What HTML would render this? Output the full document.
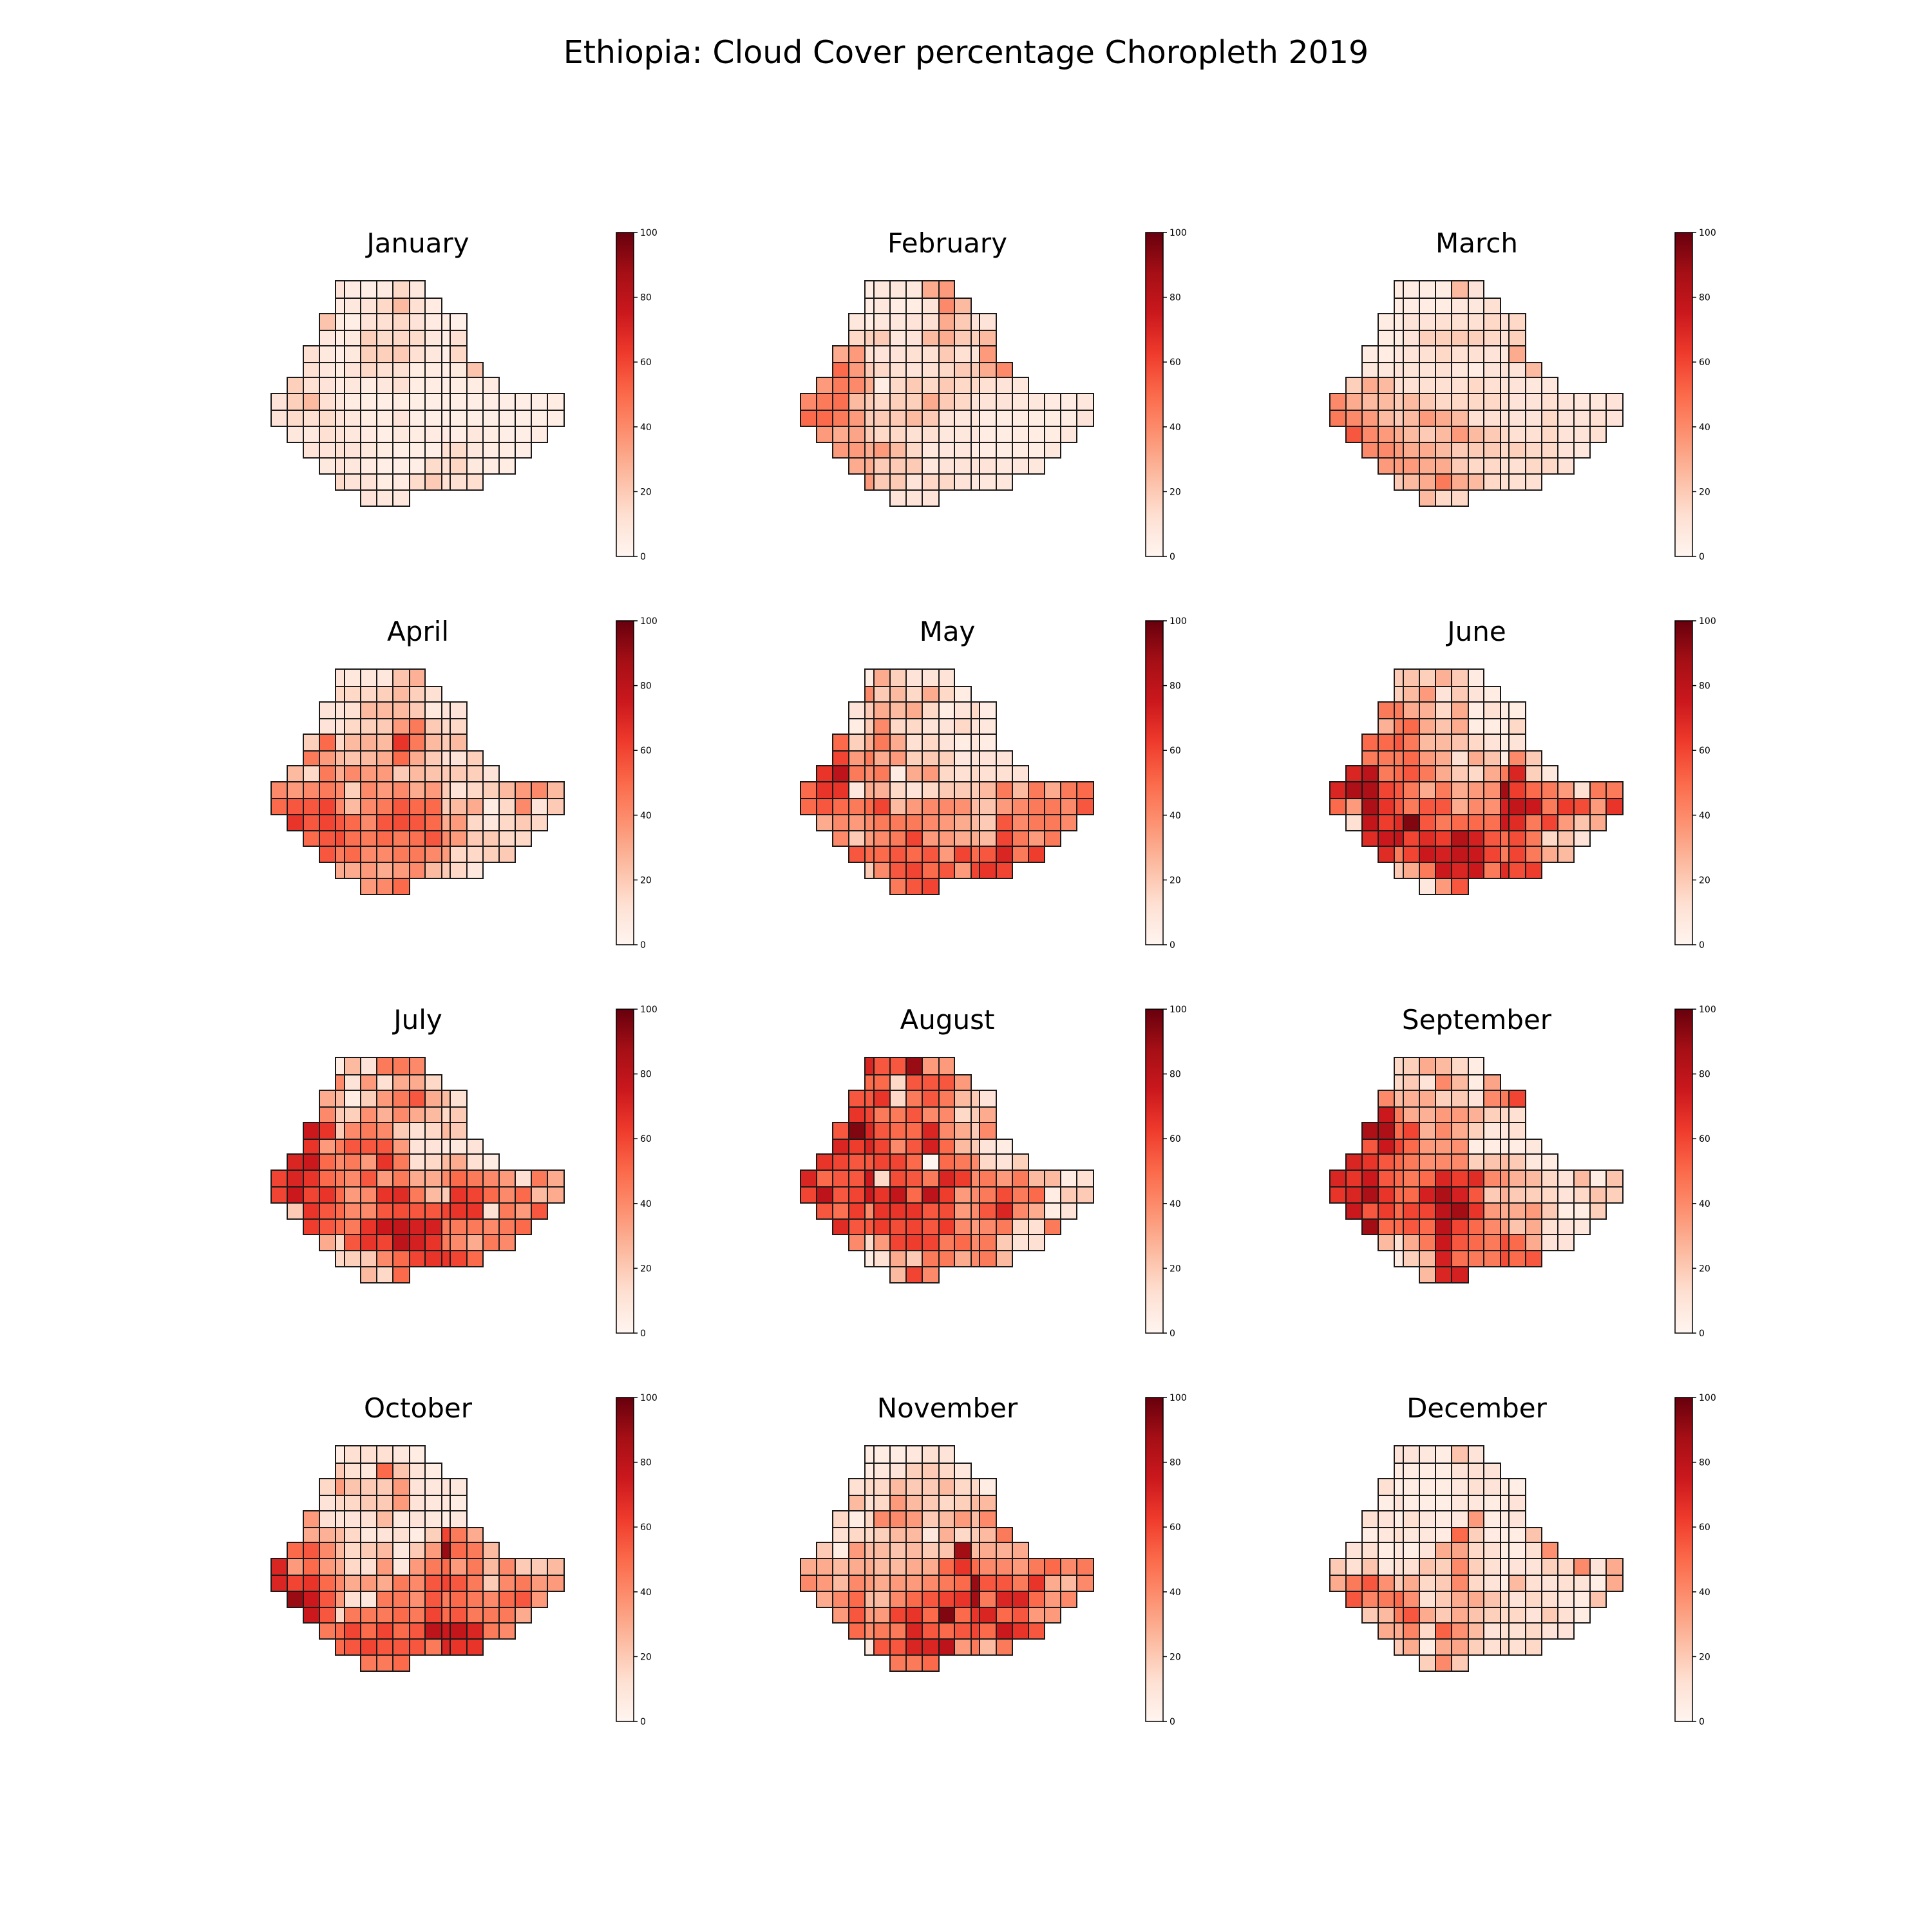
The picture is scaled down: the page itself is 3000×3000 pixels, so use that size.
<!DOCTYPE html>
<html><head><meta charset="utf-8"><style>html,body{margin:0;padding:0;background:#fff}svg{display:block}</style></head>
<body>
<svg id="chart" xmlns="http://www.w3.org/2000/svg" width="3000" height="3000" viewBox="0 0 3000 3000" font-family="DejaVu Sans, Liberation Sans, sans-serif">
<defs><linearGradient id="reds" x1="0" y1="1" x2="0" y2="0">
<stop offset="0" stop-color="#fff5f0"/><stop offset="0.125" stop-color="#fee0d2"/><stop offset="0.25" stop-color="#fcbba1"/><stop offset="0.375" stop-color="#fc9272"/><stop offset="0.5" stop-color="#fb6a4a"/><stop offset="0.625" stop-color="#ef3b2c"/><stop offset="0.75" stop-color="#cb181d"/><stop offset="0.875" stop-color="#a50f15"/><stop offset="1" stop-color="#67000d"/></linearGradient></defs>
<text x="1500" y="98" font-size="49" text-anchor="middle">Ethiopia: Cloud Cover percentage Choropleth 2019</text>
<g id="panels"></g>
</svg>
<script>
const months = ["January","February","March","April","May","June","July","August","September","October","November","December"];
const colTicks = [0,20,40,60,80,100];
const rowStart = [4,4,3,3,2,2,1,0,0,1,2,3,4,6];
const jan = [[10,6,4,6,15,8],[6,8,10,15,25,12,6],[22,5,4,10,12,15,10,6,5,3],[8,5,7,18,14,15,14,8,4,12],[12,7,4,7,18,18,20,12,8,4,15],[12,8,5,10,15,12,12,5,6,4,7,22],[18,12,10,6,8,5,8,12,5,5,4,5,5,6],[10,18,25,12,8,5,4,4,5,4,4,4,4,4,4,4,4,4,5],[10,14,12,14,10,8,5,5,10,4,4,4,4,4,4,4,4,4,4],[8,7,12,10,8,6,4,7,5,6,6,4,8,5,4,4,5],[10,10,12,10,8,5,4,4,4,12,14,8,5,5,4],[7,10,8,6,4,4,4,14,12,16,7,5,5],[14,10,10,5,6,14,20,12,12,13],[10,8,8]];
const feb = [[5,8,8,8,30,35],[5,8,5,5,10,40,25],[8,5,8,8,10,12,30,20,10,10],[15,18,20,8,10,25,30,20,18,25],[30,35,12,10,10,12,12,20,12,10,35],[50,35,20,15,12,10,12,15,20,20,30,40],[35,45,40,30,5,15,20,15,20,15,15,12,10,8],[40,45,48,25,20,15,18,18,30,20,15,10,10,10,8,8,6,5,8],[50,50,45,35,20,20,20,25,20,10,8,8,5,5,5,5,5,5,10],[35,30,32,20,15,15,12,12,8,8,8,5,5,5,5,5,8],[35,35,30,35,25,15,8,8,8,5,5,5,5,5,8],[30,30,20,20,20,8,10,10,10,10,8,8,8],[35,20,20,10,15,15,10,8,8,8],[10,10,10]];
const mar = [[5,5,5,5,25,10],[5,5,5,5,8,8,12],[5,5,10,10,12,12,12,15,12,15],[5,5,10,18,18,20,18,15,12,18],[5,5,8,10,12,15,12,12,10,8,30],[8,8,10,10,10,12,8,5,10,10,10,25],[18,30,25,12,12,12,12,12,15,12,10,10,8,8],[40,30,25,25,20,25,20,15,15,15,15,12,10,10,12,10,8,8,10],[45,40,35,25,20,25,35,30,25,12,12,10,10,10,15,10,10,12,10],[55,40,35,30,25,20,25,35,25,20,15,12,12,15,10,10,12],[40,40,35,30,30,25,20,20,20,15,18,15,15,10,8],[35,35,35,30,30,20,15,15,12,12,15,15,10],[20,25,30,45,30,25,15,12,12,12],[25,15,15]];
const apr = [[10,8,8,8,22,28],[15,15,15,18,25,18,12],[10,10,12,25,25,25,20,8,10,10],[10,10,15,18,20,35,45,20,15,15],[18,50,15,25,28,25,65,45,25,20,25],[45,35,25,22,25,30,50,30,20,12,10,18],[25,15,45,30,40,35,35,20,25,22,20,20,18,10],[40,35,40,45,40,18,40,35,40,30,35,20,10,15,18,25,35,40,25],[50,55,55,60,40,25,40,45,55,50,50,20,25,30,5,15,40,10,20],[65,55,60,55,50,40,55,58,55,50,30,35,15,8,15,20,15],[50,55,58,48,45,50,45,48,55,40,35,20,20,15,15],[55,45,50,40,40,45,45,40,35,15,15,18,20],[30,30,35,30,35,40,25,20,15,8],[35,40,50]];
const may = [[5,30,18,10,10,10],[40,20,25,15,30,15,5],[10,20,30,25,30,15,5,10,15,5],[5,20,40,15,15,10,10,15,10,8],[50,18,30,45,30,12,15,10,5,8,5],[60,35,45,30,35,18,20,18,8,10,10,10],[65,80,45,40,45,5,30,35,15,12,15,12,12,10],[50,65,65,8,30,28,15,10,15,20,20,20,25,45,25,45,30,45,50],[50,55,50,45,50,60,25,35,40,40,38,25,22,35,40,45,45,40,55],[30,40,35,40,45,45,45,40,35,30,25,20,55,40,45,45,40],[40,20,35,40,45,60,35,35,30,30,25,60,45,35,45],[55,50,50,55,50,55,35,60,50,55,70,45,62],[20,40,55,60,50,55,35,60,65,60],[45,55,60]];
const jun = [[20,22,18,28,20,6],[18,25,35,10,20,10,5],[45,45,30,28,15,30,5,12,5,5],[28,45,50,30,22,30,5,5,5,15],[50,50,55,45,25,25,22,15,10,5,10],[45,45,45,50,35,30,12,30,22,5,40,20],[70,80,45,50,55,45,30,20,15,30,45,70,18,8],[70,85,85,60,55,45,30,45,30,35,38,88,62,50,45,35,12,45,45],[50,35,85,65,55,45,55,55,30,40,38,72,78,75,45,62,58,35,65],[12,78,62,68,95,55,45,50,50,48,75,68,45,60,35,22,30],[68,75,78,60,68,62,82,72,55,50,58,45,15,22,10],[68,45,60,75,72,78,75,60,45,60,45,30,25],[20,30,45,75,70,75,45,68,58,62],[8,35,55]];
const jul = [[5,25,10,45,45,40],[40,10,35,12,30,30,15],[30,25,5,18,35,45,55,30,25,12],[40,20,18,38,28,40,30,25,15,20],[75,65,20,40,45,40,20,12,15,25,20],[65,35,45,55,55,55,35,10,10,8,8,10],[70,75,50,40,45,35,65,45,12,15,25,30,12,5],[60,70,65,50,45,40,55,35,45,30,30,40,50,45,40,35,12,45,30],[60,75,60,65,50,35,40,65,68,45,25,20,65,60,50,40,50,25,30],[20,65,55,50,40,40,55,58,55,55,60,65,65,12,45,35,55],[62,55,50,45,65,75,78,72,72,45,45,45,40,45,50],[30,15,55,65,60,80,72,65,45,40,30,45,40],[15,18,20,40,50,60,65,65,60,50],[25,15,50]];
const aug = [[70,55,55,90,35,35],[50,50,15,55,55,55,35],[55,55,65,15,45,55,45,25,20,10],[65,60,45,45,55,40,40,15,20,30],[55,95,70,55,50,50,70,40,30,20,40],[70,62,70,60,40,55,72,50,25,20,10,5],[65,60,55,55,60,60,50,0,50,45,40,15,10,18],[70,50,55,55,75,15,58,55,45,70,62,40,45,35,45,25,25,5,12],[60,80,55,60,75,65,78,50,80,62,35,40,45,58,45,50,5,20,20],[55,48,62,40,65,65,65,55,58,35,40,55,70,40,30,5,10],[68,55,55,62,58,60,55,62,40,35,40,45,15,12,45],[40,15,35,60,62,60,45,50,40,45,20,10,12],[5,12,30,20,45,45,30,40,45,25],[25,60,40]];
const sep = [[15,18,30,25,15,5],[15,20,10,40,25,5,32],[40,25,28,30,18,20,10,40,45,60],[75,45,30,28,35,35,28,18,15,12],[85,85,50,60,28,40,30,18,8,8,12],[55,75,60,50,35,35,38,5,5,5,5,8],[70,65,55,50,45,38,40,40,18,22,25,20,8,5],[70,65,75,55,50,45,50,70,62,68,40,38,28,25,15,10,25,5,22],[65,70,85,65,50,50,72,85,72,55,20,28,20,18,15,10,15,22,18],[75,55,62,50,60,60,80,88,65,35,30,30,35,20,5,5,18],[88,50,50,55,50,80,60,50,40,35,22,30,12,10,8],[25,12,30,45,75,55,50,45,58,50,30,10,10],[5,18,25,72,48,45,45,58,50,55],[25,70,72]];
const oct = [[5,12,12,12,8,5],[20,12,8,50,22,10,5],[15,35,22,20,20,35,10,8,10,8],[10,15,15,20,20,35,10,8,8,5],[35,12,10,10,12,25,8,10,8,5,8],[30,28,25,15,8,10,12,5,18,60,45,30],[50,55,40,25,15,20,25,8,20,35,90,50,45,25],[70,35,50,35,30,15,12,35,8,35,45,50,35,45,25,40,20,20,25],[70,60,65,50,40,30,35,30,45,40,55,60,55,45,20,40,45,35,35],[90,75,55,35,12,8,45,45,38,55,45,50,45,40,50,55,35],[75,55,15,45,45,45,50,45,60,50,55,45,45,45,30],[45,50,60,50,60,50,55,80,75,78,70,45,40],[50,55,60,55,55,55,45,70,65,65],[45,45,50]];
const nov = [[5,5,5,8,12,10],[5,8,10,18,20,15,8],[12,15,15,25,20,20,25,15,15,5],[25,12,15,35,25,20,15,18,25,25],[15,5,15,40,40,35,20,25,35,25,40],[12,15,15,18,25,25,8,28,15,20,25,45],[20,5,35,25,25,22,25,20,22,88,25,30,28,30],[30,30,25,30,30,25,25,30,30,50,65,50,40,40,35,45,50,40,45],[40,35,25,40,35,30,35,35,40,45,50,90,55,55,45,65,30,25,40],[30,40,50,25,25,40,50,55,60,65,88,45,70,70,50,35,40],[35,55,35,35,60,65,50,95,50,65,70,50,55,35,35],[50,40,45,45,70,55,50,55,60,50,75,65,55],[8,55,55,70,70,80,35,45,25,45],[45,45,50]];
const dec = [[10,10,8,5,22,10],[5,5,5,5,10,12,10],[12,4,5,5,5,8,12,10,5,4],[4,10,4,4,4,8,8,5,5,10],[12,10,4,12,8,6,8,35,5,5,10],[4,8,12,8,8,6,50,18,6,4,5,22],[10,12,5,8,4,10,30,32,15,12,5,5,12,38],[20,12,22,8,12,12,22,18,40,18,12,5,10,10,18,15,40,10,30],[30,45,55,38,20,30,15,20,40,15,10,5,25,12,10,12,10,4,30],[55,42,45,50,38,12,20,30,30,22,15,10,15,12,8,5,22],[20,25,45,55,30,20,30,22,18,15,15,10,20,12,5],[30,30,42,15,52,38,25,10,12,12,15,10,10],[20,30,5,30,32,18,12,15,12,15],[18,40,20]];
const allMonths = [jan,feb,mar,apr,may,jun,jul,aug,sep,oct,nov,dec];

const colEdges = [0,25,50,75,100,114,139,164,189,215,239,265,278,304,329,354,379,404,429,455];
const rowEdges = [0,27,51,77,101,127,150,175,201,226,251,275,300,325,350];
const stops = [[255,245,240],[254,224,210],[252,187,161],[252,146,114],[251,106,74],[239,59,44],[203,24,29],[165,15,21],[103,0,13]];
function color(v){
  let t=Math.max(0,Math.min(1,v/100))*8; let i=Math.min(7,Math.floor(t)); let f=t-i;
  const a=stops[i],b=stops[i+1];
  return 'rgb('+a.map((x,k)=>Math.round(x+(b[k]-x)*f)).join(',')+')';
}
const NS='http://www.w3.org/2000/svg';
const root=document.getElementById('panels');
function mk(tag,attrs,parent){const e=document.createElementNS(NS,tag);for(const k in attrs)e.setAttribute(k,attrs[k]);parent.appendChild(e);return e;}
allMonths.forEach((data,m)=>{
  const pc=m%3, pr=Math.floor(m/3);
  const ox=421+822*pc, oy=436+603*pr;
  const g=mk('g',{},root);
  
  
  const t=mk('text',{x:ox+228,y:392+603*pr,'font-size':42,'text-anchor':'middle'},g);
  t.textContent=months[m];
  
  
  data.forEach((row,r)=>{
    row.forEach((v,j)=>{
      const c=rowStart[r]+j;
      const x0=ox+colEdges[c], x1=ox+colEdges[c+1];
      const y0=oy+rowEdges[r], y1=oy+rowEdges[r+1];
      const rc=mk('rect',{x:x0,y:y0,width:x1-x0,height:y1-y0,fill:color(v),stroke:'#1a1a1a','stroke-width':2},g);
      
      
    });
  });
  const cx=957+822*pc, cy0=361+603*pr, cy1=864+603*pr;
  const cb=mk('g',{},g);
  
  
  mk('rect',{x:cx,y:cy0,width:27,height:cy1-cy0,fill:'url(#reds)',stroke:'#000','stroke-width':1.5},cb);
  colTicks.forEach(tv=>{
    const y=cy1-(cy1-cy0)*tv/100;
    mk('line',{x1:cx+27,x2:cx+33,y1:y,y2:y,stroke:'#000','stroke-width':1.5},cb);
    const tl=mk('text',{x:cx+37,y:y+5,'font-size':14},cb);
    tl.textContent=tv;
    
    
  });
});
</script>
</body></html>
